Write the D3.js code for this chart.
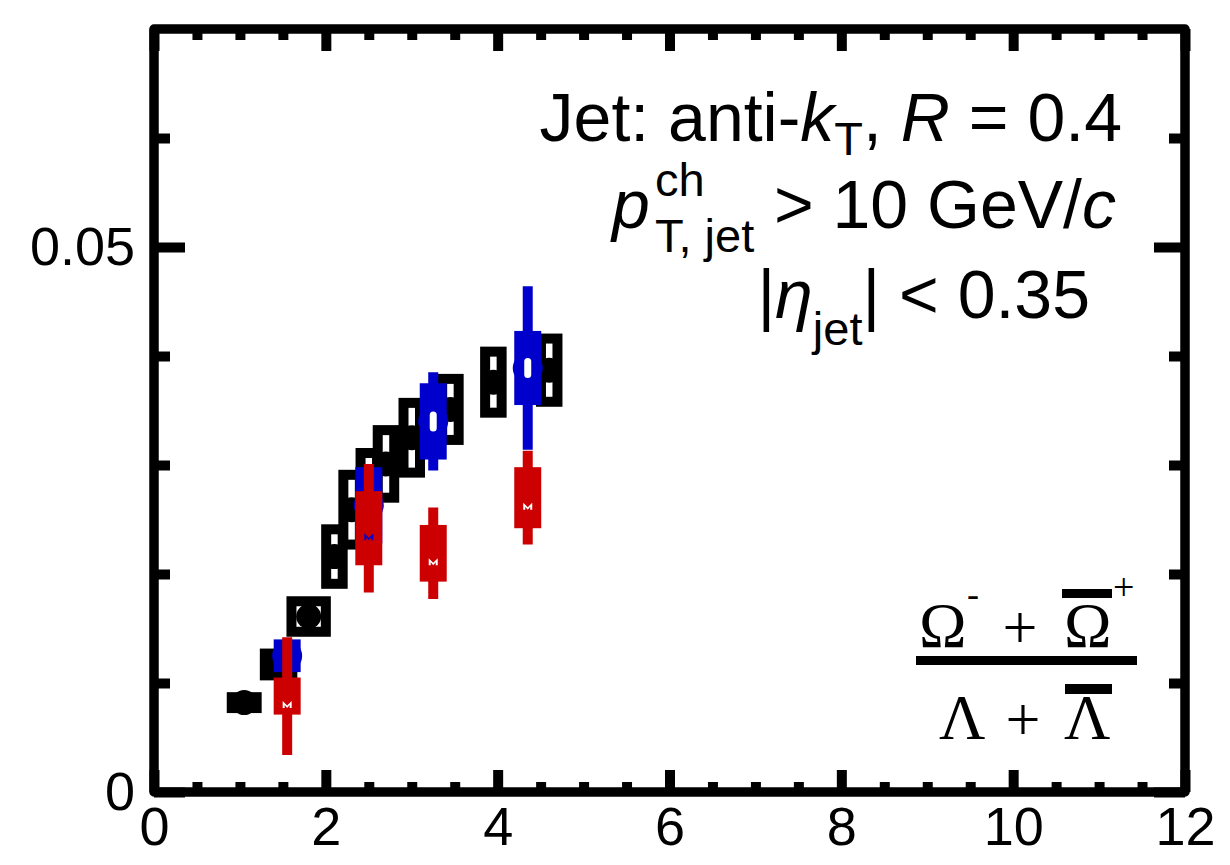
<!DOCTYPE html>
<html>
<head>
<meta charset="utf-8">
<script src="https://cdn.jsdelivr.net/npm/d3@7"></script>
<style>
  body { margin: 0; background: #fff; }
  svg { display: block; }
</style>
</head>
<body>
<svg id="chart" width="1230" height="865"></svg>
<script>
// ---- axis ticks ----
const xMajorTicks = [0, 2, 4, 6, 8, 10, 12];
const xMinorTicks = [0.5, 1, 1.5, 2.5, 3, 3.5, 4.5, 5, 5.5, 6.5, 7, 7.5, 8.5, 9, 9.5, 10.5, 11, 11.5];
const xTickLabels = ["0", "2", "4", "6", "8", "10", "12"];
const yMajorTicks = [0, 0.05];
const yMinorTicks = [0.01, 0.02, 0.03, 0.04, 0.06];
const yTickLabels = ["0", "0.05"];

// ---- black series: value with systematic box (half-width in pT, half-height in ratio) ----
const blackPt    = [1.05, 1.45, 1.80, 2.10, 2.30, 2.50, 2.70, 3.00, 3.45, 3.95, 4.60];
const blackRatio = [0.0082, 0.0117, 0.0161, 0.0216, 0.0259, 0.0285, 0.0301, 0.0325, 0.0351, 0.0376, 0.0387];
const blackSys   = [0.0005, 0.0010, 0.0014, 0.0025, 0.0032, 0.0026, 0.0031, 0.0032, 0.0028, 0.0028, 0.0029];
const blackBinHalf = [0.145, 0.16, 0.20, 0.096, 0.096, 0.096, 0.096, 0.096, 0.096, 0.096, 0.096];

// ---- blue series ----
const bluePt    = [1.55, 2.50, 3.25, 4.35];
const blueRatio = [0.0125, 0.0263, 0.0340, 0.0389];
const blueStat  = [0.0014, 0.0030, 0.0045, 0.0075];
const blueSys   = [0.0015, 0.0035, 0.0035, 0.0034];

// ---- red series ----
const redPt    = [1.55, 2.50, 3.25, 4.35];
const redRatio = [0.0088, 0.0242, 0.0219, 0.0270];
const redStat  = [0.0054, 0.0059, 0.0042, 0.0043];
const redSys   = [0.0017, 0.0034, 0.0026, 0.0028];

const colorBlue = "#0000cc";
const colorRed = "#cc0000";
const colBinHalf = 0.157;

const W = 1230, H = 865;
const frame = { left: 154, right: 1185, top: 29, bottom: 792 };

const svg = d3.select("#chart");

const x = d3.scaleLinear().domain([0, 12]).range([frame.left, frame.right]);
const y = d3.scaleLinear().domain([0, 0.07]).range([frame.bottom, frame.top]);

const black = blackPt.map((pt, i) => ({ pt, v: blackRatio[i], sys: blackSys[i], hw: blackBinHalf[i] }));
const blue = bluePt.map((pt, i) => ({ pt, v: blueRatio[i], stat: blueStat[i], sys: blueSys[i] }));
const red = redPt.map((pt, i) => ({ pt, v: redRatio[i], stat: redStat[i], sys: redSys[i] }));

// small notch cut into the red markers
const notch = "M-4.5,12 L-4.5,5 L0,9.5 L4.5,5 L4.5,12 L2.5,12 L2.5,9 L0,12 L-2.5,9 L-2.5,12 Z";
const defs = svg.append("defs");
const mask = defs.append("mask").attr("id", "redNotch")
  .attr("maskUnits", "userSpaceOnUse")
  .attr("x", 0).attr("y", 0).attr("width", W).attr("height", H);
mask.append("rect").attr("width", W).attr("height", H).attr("fill", "white");
mask.selectAll("path").data(red).join("path")
  .attr("transform", d => `translate(${x(d.pt)},${y(d.v)})`)
  .attr("d", notch).attr("fill", "black");

// ---- black: open systematic boxes with filled circles ----
const gBlack = svg.append("g");
black.forEach(d => {
  gBlack.append("rect")
    .attr("x", x(d.pt - d.hw)).attr("width", x(d.pt + d.hw) - x(d.pt - d.hw))
    .attr("y", y(d.v + d.sys)).attr("height", y(d.v - d.sys) - y(d.v + d.sys))
    .attr("fill", "none").attr("stroke", "#000").attr("stroke-width", 10);
});
gBlack.selectAll("circle").data(black).join("circle")
  .attr("cx", d => x(d.pt)).attr("cy", d => y(d.v)).attr("r", 12.5).attr("fill", "#000");

// ---- blue: filled boxes, error bars, circle markers ----
const gBlue = svg.append("g");
gBlue.selectAll("rect.sys").data(blue).join("rect").attr("class", "sys")
  .attr("x", d => x(d.pt - colBinHalf)).attr("width", d => x(d.pt + colBinHalf) - x(d.pt - colBinHalf))
  .attr("y", d => y(d.v + d.sys)).attr("height", d => y(d.v - d.sys) - y(d.v + d.sys))
  .attr("fill", colorBlue);
gBlue.selectAll("line").data(blue).join("line")
  .attr("x1", d => x(d.pt)).attr("x2", d => x(d.pt))
  .attr("y1", d => y(d.v + d.stat)).attr("y2", d => y(d.v - d.stat))
  .attr("stroke", colorBlue).attr("stroke-width", 10);
gBlue.selectAll("circle").data(blue).join("circle")
  .attr("cx", d => x(d.pt)).attr("cy", d => y(d.v)).attr("r", 15).attr("fill", colorBlue);
gBlue.selectAll("rect.hole").data(blue).join("rect").attr("class", "hole")
  .attr("x", d => x(d.pt) - 3.5).attr("y", d => y(d.v) - 10)
  .attr("width", 7).attr("height", 20).attr("rx", 3.5).attr("fill", "#fff");

// ---- red: filled boxes, error bars ----
const gRed = svg.append("g").attr("mask", "url(#redNotch)");
gRed.selectAll("rect").data(red).join("rect")
  .attr("x", d => x(d.pt - colBinHalf)).attr("width", d => x(d.pt + colBinHalf) - x(d.pt - colBinHalf))
  .attr("y", d => y(d.v + d.sys)).attr("height", d => y(d.v - d.sys) - y(d.v + d.sys))
  .attr("fill", colorRed);
gRed.selectAll("line").data(red).join("line")
  .attr("x1", d => x(d.pt)).attr("x2", d => x(d.pt))
  .attr("y1", d => y(d.v + d.stat)).attr("y2", d => y(d.v - d.stat))
  .attr("stroke", colorRed).attr("stroke-width", 10);

// ---- axes: inward ticks on all four sides ----
const tickFont = "'Liberation Sans', Arial, Helvetica, sans-serif";
function styleAxis(g) {
  g.select(".domain").remove();
  g.selectAll(".tick line").attr("stroke", "#000").attr("stroke-width", 10);
  g.selectAll(".tick text").attr("fill", "#000").attr("font-family", tickFont).attr("font-size", 54);
}
const xLabel = d => xTickLabels[xMajorTicks.indexOf(d)];
const yLabel = d => yTickLabels[yMajorTicks.indexOf(d)];

svg.append("g").attr("transform", `translate(0,${frame.bottom})`)
  .call(d3.axisBottom(x).tickValues(xMajorTicks).tickSize(-22).tickPadding(15).tickFormat(xLabel))
  .call(styleAxis);
svg.append("g").attr("transform", `translate(0,${frame.bottom})`)
  .call(d3.axisBottom(x).tickValues(xMinorTicks).tickSize(-10).tickFormat(""))
  .call(styleAxis);
svg.append("g").attr("transform", `translate(0,${frame.top})`)
  .call(d3.axisTop(x).tickValues(xMajorTicks).tickSize(-22).tickFormat(""))
  .call(styleAxis);
svg.append("g").attr("transform", `translate(0,${frame.top})`)
  .call(d3.axisTop(x).tickValues(xMinorTicks).tickSize(-11).tickFormat(""))
  .call(styleAxis);
svg.append("g").attr("transform", `translate(${frame.left},0)`)
  .call(d3.axisLeft(y).tickValues(yMajorTicks).tickSize(-31).tickPadding(19).tickFormat(yLabel))
  .call(styleAxis);
svg.append("g").attr("transform", `translate(${frame.left},0)`)
  .call(d3.axisLeft(y).tickValues(yMinorTicks).tickSize(-16).tickFormat(""))
  .call(styleAxis);
svg.append("g").attr("transform", `translate(${frame.right},0)`)
  .call(d3.axisRight(y).tickValues(yMajorTicks).tickSize(-31).tickFormat(""))
  .call(styleAxis);
svg.append("g").attr("transform", `translate(${frame.right},0)`)
  .call(d3.axisRight(y).tickValues(yMinorTicks).tickSize(-16).tickFormat(""))
  .call(styleAxis);

// frame
svg.append("rect")
  .attr("x", x(0)).attr("y", y(0.07))
  .attr("width", x(12) - x(0)).attr("height", y(0) - y(0.07))
  .attr("fill", "none").attr("stroke", "#000").attr("stroke-width", 9.5)
  .attr("stroke-linejoin", "round");

// ---- jet selection text ----
const note = svg.append("g").attr("font-family", tickFont).attr("fill", "#000");
const t1 = note.append("text").attr("x", 1122).attr("y", 141).attr("text-anchor", "end").attr("font-size", 68);
t1.append("tspan").text("Jet: anti-");
t1.append("tspan").attr("font-style", "italic").text("k");
t1.append("tspan").attr("font-size", 47).attr("dy", 14).text("T");
t1.append("tspan").attr("dy", -14).text(", ");
t1.append("tspan").attr("font-style", "italic").text("R");
t1.append("tspan").text(" = 0.4");

note.append("text").attr("x", 612).attr("y", 228).attr("font-size", 68).attr("font-style", "italic").text("p");
note.append("text").attr("x", 655).attr("y", 196).attr("font-size", 47).text("ch");
note.append("text").attr("x", 655).attr("y", 252).attr("font-size", 47).text("T, jet");
const t2 = note.append("text").attr("x", 1116).attr("y", 228).attr("text-anchor", "end").attr("font-size", 68);
t2.append("tspan").text("> 10 GeV/");
t2.append("tspan").attr("font-style", "italic").text("c");

const t3 = note.append("text").attr("x", 1090).attr("y", 318).attr("text-anchor", "end").attr("font-size", 68);
t3.append("tspan").text("|");
t3.append("tspan").attr("font-style", "italic").text("η");
t3.append("tspan").attr("font-size", 47).attr("dy", 27).text("jet");
t3.append("tspan").attr("dy", -27).text("| < 0.35");

// ---- ratio label ----
const frac = svg.append("g").attr("font-family", "'Liberation Serif', 'Times New Roman', serif").attr("fill", "#000");
frac.append("text").attr("x", 919).attr("y", 647).attr("font-size", 64).text("Ω");
frac.append("text").attr("x", 967).attr("y", 606).attr("font-size", 36).text("-");
frac.append("text").attr("x", 1020).attr("y", 648).attr("text-anchor", "middle").attr("font-size", 62).text("+");
frac.append("text").attr("x", 1064).attr("y", 647).attr("font-size", 64).text("Ω");
frac.append("rect").attr("x", 1062).attr("y", 589).attr("width", 50).attr("height", 9);
frac.append("text").attr("x", 1113).attr("y", 600).attr("font-size", 38).text("+");
frac.append("rect").attr("x", 916).attr("y", 656).attr("width", 221).attr("height", 9);
frac.append("text").attr("x", 939).attr("y", 739).attr("font-size", 64).text("Λ");
frac.append("text").attr("x", 1023).attr("y", 740).attr("text-anchor", "middle").attr("font-size", 62).text("+");
frac.append("text").attr("x", 1064).attr("y", 739).attr("font-size", 64).text("Λ");
frac.append("rect").attr("x", 1065).attr("y", 684).attr("width", 47).attr("height", 10);
</script>
</body>
</html>
